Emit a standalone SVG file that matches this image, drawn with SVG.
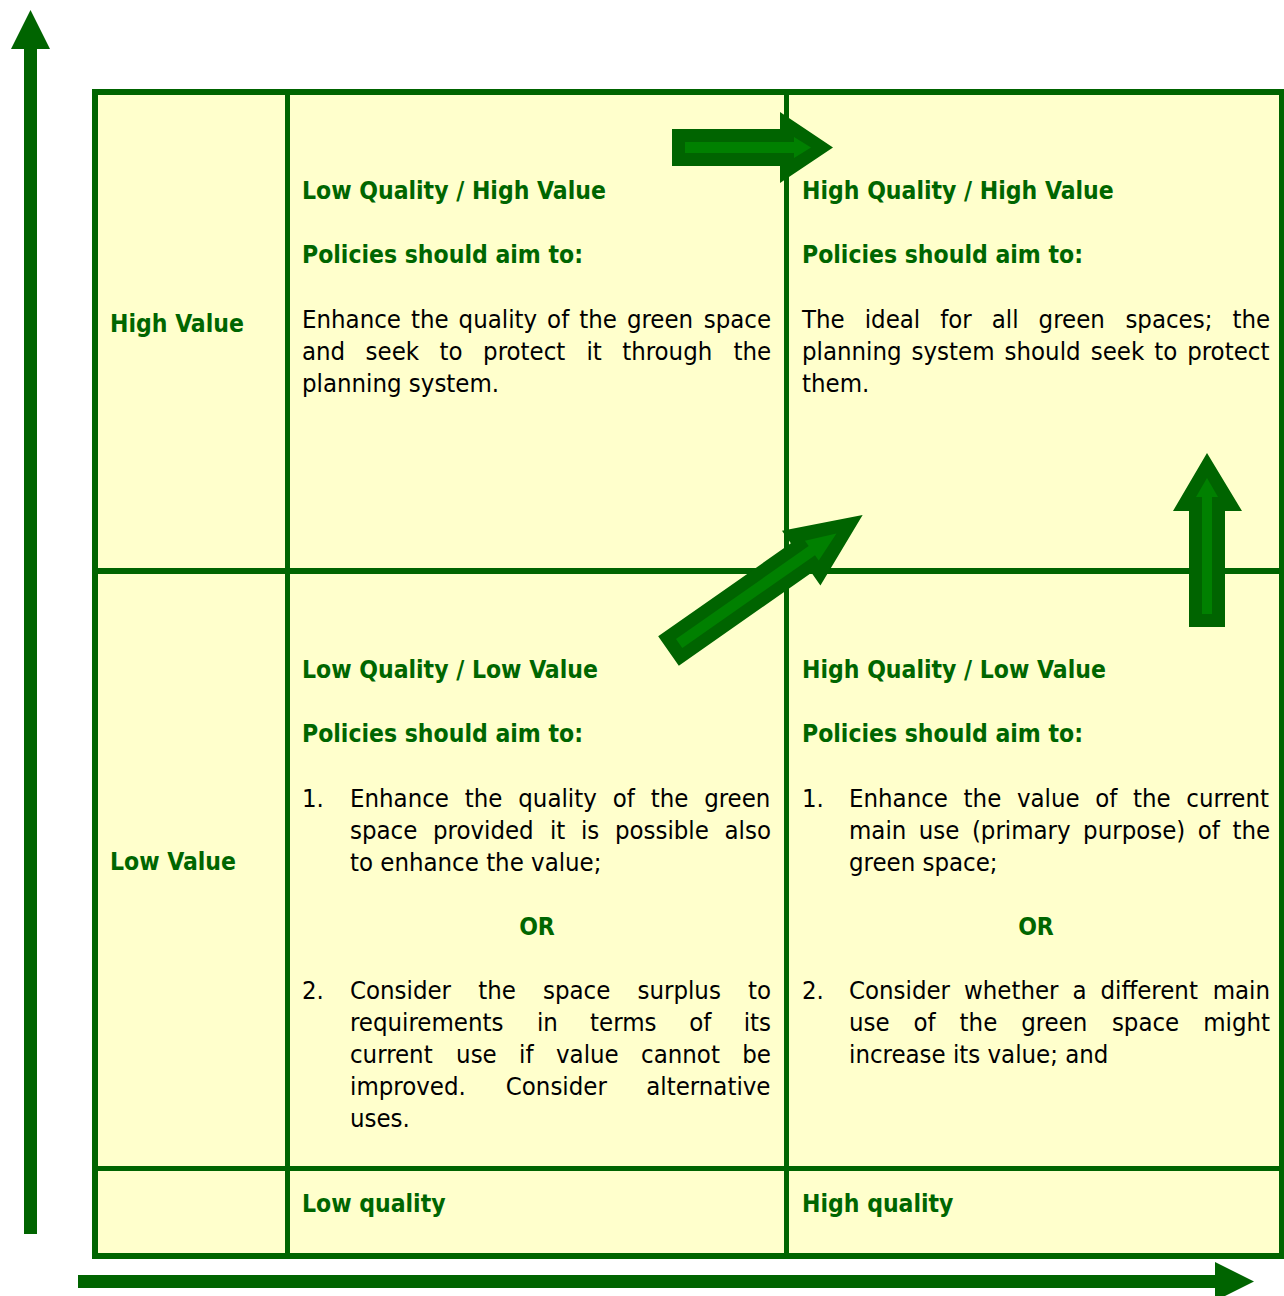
<svg xmlns="http://www.w3.org/2000/svg" width="1284" height="1296" viewBox="0 0 1284 1296">
<style>
.t{font-family:'DejaVu Sans Condensed','DejaVu Sans',sans-serif;font-stretch:condensed;font-size:25.5px;fill:#000}
.h{font-family:'DejaVu Sans Condensed','DejaVu Sans',sans-serif;font-stretch:condensed;font-size:24.5px;font-weight:bold;fill:#006600}
.line{fill:#006400}
.cell{fill:#FFFFCC}
.ao{fill:#006400}
.ai{fill:#008000}
</style>
<rect x="0" y="0" width="1284" height="1296" fill="#ffffff"/>
<g id="table">
<rect class="cell" x="92" y="89" width="1192" height="1170"/>
<rect class="line" x="92" y="89" width="1192" height="6"/>
<rect class="line" x="92" y="1253" width="1192" height="6"/>
<rect class="line" x="92" y="89" width="6" height="1170"/>
<rect class="line" x="1279" y="89" width="5" height="1170"/>
<rect class="line" x="285" y="89" width="5" height="1170"/>
<rect class="line" x="784" y="89" width="5" height="1170"/>
<rect class="line" x="92" y="568" width="1192" height="6"/>
<rect class="line" x="92" y="1166" width="1192" height="5"/>
</g>
<g id="label-high-value"><text class="h" x="110" y="332">High Value</text></g>
<g id="label-low-value"><text class="h" x="110" y="870">Low Value</text></g>
<g id="label-low-quality"><text class="h" x="302" y="1212">Low quality</text></g>
<g id="label-high-quality"><text class="h" x="802" y="1212">High quality</text></g>
<g id="cell-lq-hv">
<text class="h" x="302" y="199">Low Quality / High Value</text>
<text class="h" x="302" y="263">Policies should aim to:</text>
<text class="t" y="328"><tspan x="302">Enhance</tspan> <tspan x="410.9">the</tspan> <tspan x="458.6">quality</tspan> <tspan x="547.1">of</tspan> <tspan x="579.2">the</tspan> <tspan x="626.9">green</tspan> <tspan x="703.7">space</tspan></text>
<text class="t" y="360"><tspan x="302">and</tspan> <tspan x="365.6">seek</tspan> <tspan x="439.6">to</tspan> <tspan x="483.1">protect</tspan> <tspan x="586.4">it</tspan> <tspan x="622.2">through</tspan> <tspan x="733.4">the</tspan></text>
<text class="t" x="302" y="392">planning system.</text>
</g>
<g id="cell-hq-hv">
<text class="h" x="802" y="199">High Quality / High Value</text>
<text class="h" x="802" y="263">Policies should aim to:</text>
<text class="t" y="328"><tspan x="802">The</tspan> <tspan x="864.7">ideal</tspan> <tspan x="940.2">for</tspan> <tspan x="991.8">all</tspan> <tspan x="1038.6">green</tspan> <tspan x="1125.4">spaces;</tspan> <tspan x="1232.4">the</tspan></text>
<text class="t" y="360"><tspan x="802">planning</tspan> <tspan x="911.6">system</tspan> <tspan x="1004.6">should</tspan> <tspan x="1090.7">seek</tspan> <tspan x="1154.2">to</tspan> <tspan x="1187.2">protect</tspan></text>
<text class="t" x="802" y="392">them.</text>
</g>
<g id="cell-lq-lv">
<text class="h" x="302" y="678">Low Quality / Low Value</text>
<text class="h" x="302" y="742">Policies should aim to:</text>
<text class="t" x="302" y="807">1.</text>
<text class="t" y="807"><tspan x="350">Enhance</tspan> <tspan x="464.8">the</tspan> <tspan x="518.3">quality</tspan> <tspan x="612.7">of</tspan> <tspan x="650.7">the</tspan> <tspan x="704.2">green</tspan></text>
<text class="t" y="839"><tspan x="350">space</tspan> <tspan x="433">provided</tspan> <tspan x="549.9">it</tspan> <tspan x="580.9">is</tspan> <tspan x="614.9">possible</tspan> <tspan x="724.5">also</tspan></text>
<text class="t" x="350" y="871">to enhance the value;</text>
<text class="h" x="537" y="935" text-anchor="middle">OR</text>
<text class="t" x="302" y="999">2.</text>
<text class="t" y="999"><tspan x="350">Consider</tspan> <tspan x="478.2">the</tspan> <tspan x="543">space</tspan> <tspan x="637.5">surplus</tspan> <tspan x="748">to</tspan></text>
<text class="t" y="1031"><tspan x="350">requirements</tspan> <tspan x="536.9">in</tspan> <tspan x="590.1">terms</tspan> <tspan x="689.3">of</tspan> <tspan x="743.7">its</tspan></text>
<text class="t" y="1063"><tspan x="350">current</tspan> <tspan x="456.1">use</tspan> <tspan x="519.1">if</tspan> <tspan x="556">value</tspan> <tspan x="641.1">cannot</tspan> <tspan x="742.3">be</tspan></text>
<text class="t" y="1095"><tspan x="350">improved.</tspan> <tspan x="505.8">Consider</tspan> <tspan x="646.3">alternative</tspan></text>
<text class="t" x="350" y="1127">uses.</text>
</g>
<g id="cell-hq-lv">
<text class="h" x="802" y="678">High Quality / Low Value</text>
<text class="h" x="802" y="742">Policies should aim to:</text>
<text class="t" x="802" y="807">1.</text>
<text class="t" y="807"><tspan x="849">Enhance</tspan> <tspan x="963.6">the</tspan> <tspan x="1016.9">value</tspan> <tspan x="1095.2">of</tspan> <tspan x="1133">the</tspan> <tspan x="1186.3">current</tspan></text>
<text class="t" y="839"><tspan x="849">main</tspan> <tspan x="918.8">use</tspan> <tspan x="971.9">(primary</tspan> <tspan x="1083.1">purpose)</tspan> <tspan x="1197.8">of</tspan> <tspan x="1232.4">the</tspan></text>
<text class="t" x="849" y="871">green space;</text>
<text class="h" x="1036" y="935" text-anchor="middle">OR</text>
<text class="t" x="802" y="999">2.</text>
<text class="t" y="999"><tspan x="849">Consider</tspan> <tspan x="964">whether</tspan> <tspan x="1072.5">a</tspan> <tspan x="1100.5">different</tspan> <tspan x="1212.7">main</tspan></text>
<text class="t" y="1031"><tspan x="849">use</tspan> <tspan x="913.5">of</tspan> <tspan x="959.6">the</tspan> <tspan x="1021.2">green</tspan> <tspan x="1111.9">space</tspan> <tspan x="1203.2">might</tspan></text>
<text class="t" x="849" y="1063">increase its value; and</text>
</g>
<g id="connectors">
<g id="axis-value">
<rect class="ao" x="24" y="48" width="13" height="1186"/>
<polygon class="ao" points="11,49 30.5,10 50,49"/>
</g>
<g id="axis-quality">
<rect class="ao" x="78" y="1275" width="1138" height="13"/>
<polygon class="ao" points="1215,1262 1254,1281.5 1215,1301"/>
</g>
<g id="arrow-right">
<polygon class="ao" points="672,129 780,129 780,112 833,147.5 780,183 780,166 672,166"/>
<polygon class="ai" points="685,142 794,142 794,137 811,147.5 794,158 794,153 685,153"/>
</g>
<g id="arrow-diagonal" transform="translate(668.5,651) rotate(-35)">
<polygon class="ao" points="0,-18 162,-18 162,-33.5 237,0 162,33.5 162,18 0,18"/>
<polygon class="ai" points="13,-5.5 175,-5.5 175,-12 205,0 175,12 175,5.5 13,5.5"/>
</g>
<g id="arrow-up">
<polygon class="ao" points="1189,627 1189,511 1173,511 1207,453 1242,511 1225,511 1225,627"/>
<polygon class="ai" points="1202,614 1202,497 1196,497 1207,478 1218,497 1212,497 1212,614"/>
</g>
</g>
</svg>
